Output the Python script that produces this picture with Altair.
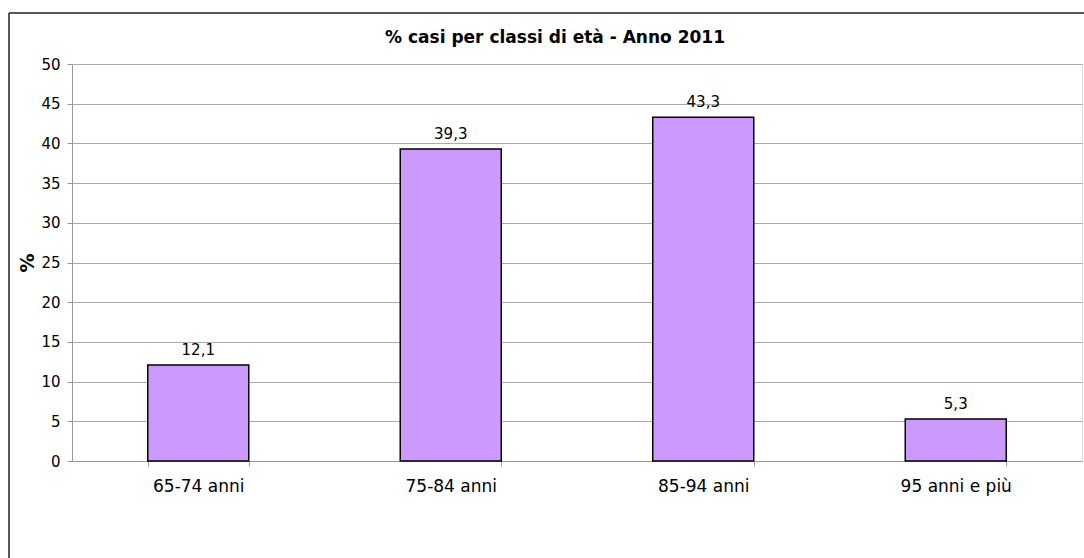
import altair as alt
import pandas as pd

categories = ["65-74 anni", "75-84 anni", "85-94 anni", "95 anni e più"]
values = [12.1, 39.3, 43.3, 5.3]
y_ticks = [0, 5, 10, 15, 20, 25, 30, 35, 40, 45, 50]
title_text = "% casi per classi di età - Anno 2011"

df = pd.DataFrame({"cat": categories, "v": values})
FONT = "DejaVu Sans"

base = alt.Chart(df)

x_enc = alt.X("cat:N", sort=categories, title=None,
              scale=alt.Scale(paddingInner=0.6, paddingOuter=0.3),
              axis=alt.Axis(labelAngle=0, labelFont=FONT, labelFontSize=17,
                            labelColor="#000000", labelPadding=12,
                            tickBand="extent", tickSize=5, tickColor="#999999",
                            domainColor="#999999", grid=False, labelBaseline="top"))
y_enc = alt.Y("v:Q", title="%",
              scale=alt.Scale(domain=[0, 50], nice=False, zero=True),
              axis=alt.Axis(values=y_ticks, labelFont=FONT, labelFontSize=15,
                            labelColor="#000000", labelPadding=7, tickSize=5,
                            labelOverlap=False,
                            tickColor="#999999", domainColor="#999999",
                            gridColor="#AAAAAA", gridWidth=1.2,
                            titleFont=FONT, titleFontSize=19, titleFontWeight="bold",
                            titleColor="#000000", titlePadding=3))

bars = base.mark_bar(color="#CC99FF", stroke="#000000", strokeWidth=1.5).encode(x=x_enc, y=y_enc)

labels = base.transform_calculate(
    lab="replace(format(datum.v, '.1f'), '.', ',')"
).mark_text(font=FONT, fontSize=15, color="#000000", baseline="alphabetic", dy=-10).encode(
    x=x_enc, y=y_enc, text="lab:N")

one = alt.Data(values=[{"t": title_text}])
frame_left = alt.Chart(one).mark_rule(color="#222222", strokeWidth=1.5).encode(
    x=alt.value(-63), y=alt.value(-51), y2=alt.value(510))
frame_top = alt.Chart(one).mark_rule(color="#222222", strokeWidth=1.5).encode(
    x=alt.value(-63), x2=alt.value(1030), y=alt.value(-51))
title = alt.Chart(one).mark_text(font=FONT, fontSize=17, fontWeight="bold", color="#000000",
                                 align="center", baseline="alphabetic").encode(
    x=alt.value(483), y=alt.value(-21), text="t:N")

chart = alt.layer(bars, labels, frame_left, frame_top, title).properties(
    width=1010, height=397,
    padding={"left": 72, "top": 64, "right": 2, "bottom": 97},
    autosize=alt.AutoSizeParams(type="none"),
).configure_view(stroke="#AAAAAA", strokeWidth=1.2).configure(background="#FFFFFF")

chart.save("out.html", embed_options={"renderer": "svg", "actions": False})
